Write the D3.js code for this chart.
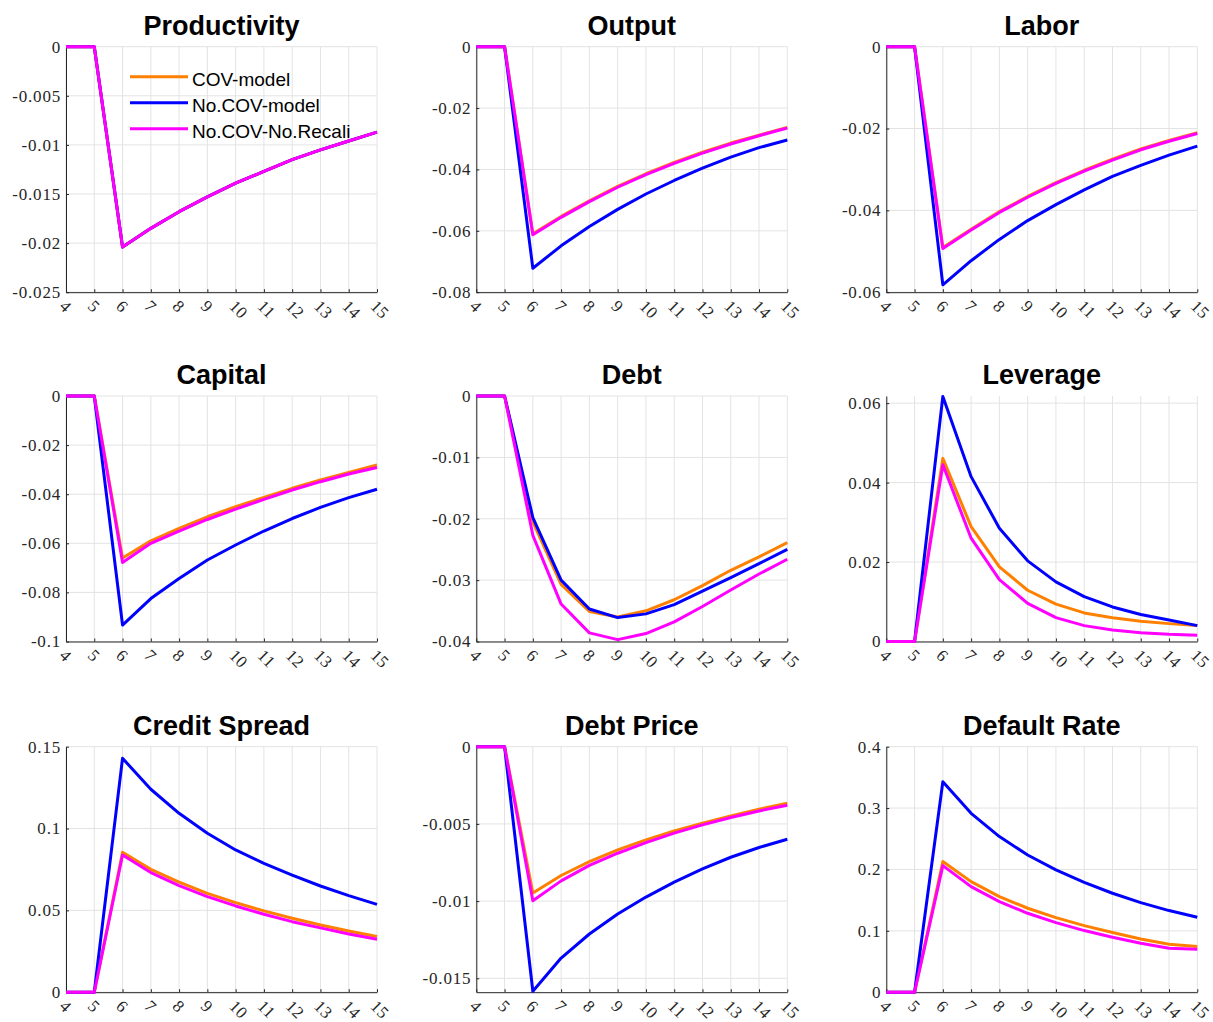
<!DOCTYPE html>
<html>
<head>
<meta charset="utf-8">
<script src="https://cdn.jsdelivr.net/npm/d3@7"></script>
<style>
  body { margin: 0; background: #fff; }
  svg { display: block; }
</style>
</head>
<body>
<div id="vis-container"></div>
<script>
// periods on the x axis
const periods = [4, 5, 6, 7, 8, 9, 10, 11, 12, 13, 14, 15];

const seriesNames = ["COV-model", "No.COV-model", "No.COV-No.Recali"];
const seriesColors = ["#ff8000", "#0000ff", "#ff00ff"];

// Productivity
const prodCOV    = [0, 0, -0.0204, -0.0185, -0.0168, -0.0153, -0.0139, -0.0127, -0.0115, -0.0105, -0.0096, -0.0087];
const prodNoCOV  = [0, 0, -0.0204, -0.0185, -0.0168, -0.0153, -0.0139, -0.0127, -0.0115, -0.0105, -0.0096, -0.0087];
const prodNoRec  = [0, 0, -0.0204, -0.0185, -0.0168, -0.0153, -0.0139, -0.0127, -0.0115, -0.0105, -0.0096, -0.0087];
// Output
const outCOV     = [0, 0, -0.0610, -0.0553, -0.0502, -0.0455, -0.0414, -0.0377, -0.0344, -0.0314, -0.0288, -0.0263];
const outNoCOV   = [0, 0, -0.0722, -0.0649, -0.0586, -0.0530, -0.0480, -0.0436, -0.0396, -0.0360, -0.0329, -0.0304];
const outNoRec   = [0, 0, -0.0613, -0.0556, -0.0505, -0.0458, -0.0417, -0.0380, -0.0347, -0.0317, -0.0290, -0.0265];
// Labor
const labCOV     = [0, 0, -0.0491, -0.0446, -0.0403, -0.0366, -0.0332, -0.0302, -0.0275, -0.0250, -0.0229, -0.0210];
const labNoCOV   = [0, 0, -0.0582, -0.0523, -0.0471, -0.0425, -0.0386, -0.0350, -0.0317, -0.0290, -0.0265, -0.0243];
const labNoRec   = [0, 0, -0.0493, -0.0448, -0.0405, -0.0368, -0.0334, -0.0304, -0.0277, -0.0252, -0.0231, -0.0212];
// Capital
const capCOV     = [0, 0, -0.0660, -0.0590, -0.0539, -0.0492, -0.0451, -0.0413, -0.0376, -0.0342, -0.0311, -0.0281];
const capNoCOV   = [0, 0, -0.0933, -0.0825, -0.0743, -0.0668, -0.0607, -0.0550, -0.0499, -0.0454, -0.0414, -0.0380];
const capNoRec   = [0, 0, -0.0678, -0.0600, -0.0550, -0.0503, -0.0461, -0.0421, -0.0383, -0.0349, -0.0318, -0.0291];
// Debt
const debtCOV    = [0, 0, -0.0205, -0.0307, -0.0351, -0.0360, -0.0350, -0.0332, -0.0309, -0.0284, -0.0262, -0.0239];
const debtNoCOV  = [0, 0, -0.0198, -0.0300, -0.0347, -0.0361, -0.0355, -0.0340, -0.0318, -0.0296, -0.0273, -0.0250];
const debtNoRec  = [0, 0, -0.0227, -0.0339, -0.0386, -0.0397, -0.0387, -0.0368, -0.0343, -0.0316, -0.0290, -0.0266];
// Leverage
const levCOV     = [0, 0, 0.0461, 0.0289, 0.0188, 0.0129, 0.0094, 0.0072, 0.0060, 0.0051, 0.0045, 0.0040];
const levNoCOV   = [0, 0, 0.0617, 0.0415, 0.0285, 0.0203, 0.0150, 0.0113, 0.0087, 0.0068, 0.0054, 0.0040];
const levNoRec   = [0, 0, 0.0445, 0.0260, 0.0156, 0.0096, 0.0060, 0.0040, 0.0029, 0.0022, 0.0018, 0.0016];
// Credit Spread
const csCOV      = [0, 0, 0.0855, 0.0751, 0.0672, 0.0604, 0.0547, 0.0497, 0.0452, 0.0411, 0.0374, 0.0340];
const csNoCOV    = [0, 0, 0.1429, 0.1240, 0.1093, 0.0971, 0.0869, 0.0787, 0.0716, 0.0649, 0.0590, 0.0537];
const csNoRec    = [0, 0, 0.0838, 0.0731, 0.0651, 0.0584, 0.0527, 0.0476, 0.0431, 0.0393, 0.0356, 0.0324];
// Debt Price
const dpCOV      = [0, 0, -0.00948, -0.00834, -0.00744, -0.00668, -0.00603, -0.00545, -0.00496, -0.00448, -0.00405, -0.00366];
const dpNoCOV    = [0, 0, -0.01584, -0.01369, -0.01213, -0.01084, -0.00974, -0.00877, -0.00791, -0.00716, -0.00653, -0.00599];
const dpNoRec    = [0, 0, -0.00998, -0.00869, -0.00769, -0.00690, -0.00621, -0.00560, -0.00506, -0.00459, -0.00416, -0.00379];
// Default Rate
const drCOV      = [0, 0, 0.2128, 0.1802, 0.1558, 0.1368, 0.1216, 0.1085, 0.0972, 0.0868, 0.0782, 0.0744];
const drNoCOV    = [0, 0, 0.3430, 0.2914, 0.2535, 0.2236, 0.1992, 0.1791, 0.1612, 0.1460, 0.1330, 0.1221];
const drNoRec    = [0, 0, 0.2062, 0.1720, 0.1476, 0.1286, 0.1134, 0.1004, 0.0896, 0.0798, 0.0716, 0.0700];

// panel titles, y ranges and y ticks
const titles = ["Productivity", "Output", "Labor", "Capital", "Debt", "Leverage",
                "Credit Spread", "Debt Price", "Default Rate"];
const yDomains = [[-0.025, 0], [-0.08, 0], [-0.06, 0], [-0.1, 0], [-0.04, 0], [0, 0.0618],
                  [0, 0.15], [-0.0159, 0], [0, 0.4]];
const yTickVals = [
  [-0.025, -0.02, -0.015, -0.01, -0.005, 0],
  [-0.08, -0.06, -0.04, -0.02, 0],
  [-0.06, -0.04, -0.02, 0],
  [-0.1, -0.08, -0.06, -0.04, -0.02, 0],
  [-0.04, -0.03, -0.02, -0.01, 0],
  [0, 0.02, 0.04, 0.06],
  [0, 0.05, 0.1, 0.15],
  [-0.015, -0.01, -0.005, 0],
  [0, 0.1, 0.2, 0.3, 0.4]
];
const panelSeries = [
  [prodCOV, prodNoCOV, prodNoRec],
  [outCOV, outNoCOV, outNoRec],
  [labCOV, labNoCOV, labNoRec],
  [capCOV, capNoCOV, capNoRec],
  [debtCOV, debtNoCOV, debtNoRec],
  [levCOV, levNoCOV, levNoRec],
  [csCOV, csNoCOV, csNoRec],
  [dpCOV, dpNoCOV, dpNoRec],
  [drCOV, drNoCOV, drNoRec]
];

//layout
const W = 1213, H = 1022;
const colLeft = [66, 476.3, 886.3];
const rowTop = [46.7, 396, 746.7];
const width = 311, height = 245.5;

const svg = d3.select("#vis-container")
  .append("svg")
  .attr("width", W)
  .attr("height", H);

const axisColor = "#262626";
const gridColor = "#e3e3e3";
const serifFont = "Liberation Serif, DejaVu Serif, serif";
const sansFont = "Liberation Sans, Arial, Helvetica, sans-serif";

titles.forEach((title, i) => {
  const col = i % 3, row = Math.floor(i / 3);
  const g = svg.append("g")
    .attr("transform", `translate(${colLeft[col]}, ${rowTop[row]})`);

  const x = d3.scaleLinear().domain([4, 15]).range([0, width]);
  const y = d3.scaleLinear().domain(yDomains[i]).range([height, 0]);

  //grid
  g.append("g").selectAll("line")
    .data(periods)
    .join("line")
      .attr("x1", d => x(d)).attr("x2", d => x(d))
      .attr("y1", 0).attr("y2", height)
      .attr("stroke", gridColor).attr("stroke-width", 1);
  g.append("g").selectAll("line")
    .data(yTickVals[i])
    .join("line")
      .attr("x1", 0).attr("x2", width)
      .attr("y1", d => y(d)).attr("y2", d => y(d))
      .attr("stroke", gridColor).attr("stroke-width", 1);

  //axes
  const yAxis = d3.axisLeft(y)
    .tickValues(yTickVals[i])
    .tickSizeInner(-3)
    .tickSizeOuter(0)
    .tickPadding(6)
    .tickFormat(d => String(+d.toFixed(4)));
  const yAxisGroup = g.append("g").call(yAxis);
  yAxisGroup.attr("font-family", serifFont);
  yAxisGroup.select(".domain").attr("stroke", axisColor);
  yAxisGroup.selectAll(".tick line").attr("stroke", axisColor);
  yAxisGroup.selectAll("text")
    .attr("x", -5)
    .style("font-family", serifFont)
    .style("font-size", "17px")
    .style("letter-spacing", "0.8px")
    .attr("fill", axisColor);

  const xAxis = d3.axisBottom(x)
    .tickValues(periods)
    .tickSizeInner(-3)
    .tickSizeOuter(0)
    .tickFormat(d3.format("d"));
  const xAxisGroup = g.append("g")
    .attr("transform", `translate(0, ${height})`)
    .call(xAxis);
  xAxisGroup.attr("font-family", serifFont);
  xAxisGroup.select(".domain").attr("stroke", axisColor);
  xAxisGroup.selectAll(".tick line").attr("stroke", axisColor);
  xAxisGroup.selectAll("text")
    .attr("x", -8)
    .attr("y", 15)
    .attr("dy", null)
    .attr("text-anchor", "start")
    .attr("transform", "rotate(45, -8, 15)")
    .style("font-family", serifFont)
    .style("font-size", "17px")
    .style("letter-spacing", "0.5px")
    .attr("fill", axisColor);

  //lines
  const line = d3.line()
    .x((d, k) => x(periods[k]))
    .y(d => y(d));
  panelSeries[i].forEach((vals, s) => {
    g.append("path")
      .datum(vals)
      .attr("fill", "none")
      .attr("stroke", seriesColors[s])
      .attr("stroke-width", 3)
      .attr("stroke-linejoin", "round")
      .attr("d", line);
  });

  //title
  g.append("text")
    .attr("x", width / 2)
    .attr("y", -12)
    .attr("text-anchor", "middle")
    .style("font-family", sansFont)
    .attr("font-weight", "bold")
    .attr("font-size", "27px")
    .attr("fill", "#000")
    .text(title);

  //legend only in the first panel
  if (i === 0) {
    const leg = g.append("g").attr("transform", "translate(64, 30)");
    seriesNames.forEach((name, s) => {
      const yy = s * 26;
      leg.append("line")
        .attr("x1", 0).attr("x2", 58)
        .attr("y1", yy).attr("y2", yy)
        .attr("stroke", seriesColors[s])
        .attr("stroke-width", 3);
      leg.append("text")
        .attr("x", 62)
        .attr("y", yy + 9.5)
        .style("font-family", sansFont)
        .attr("font-size", "19px")
        .attr("fill", "#000")
        .text(name);
    });
  }
});
</script>
</body>
</html>
